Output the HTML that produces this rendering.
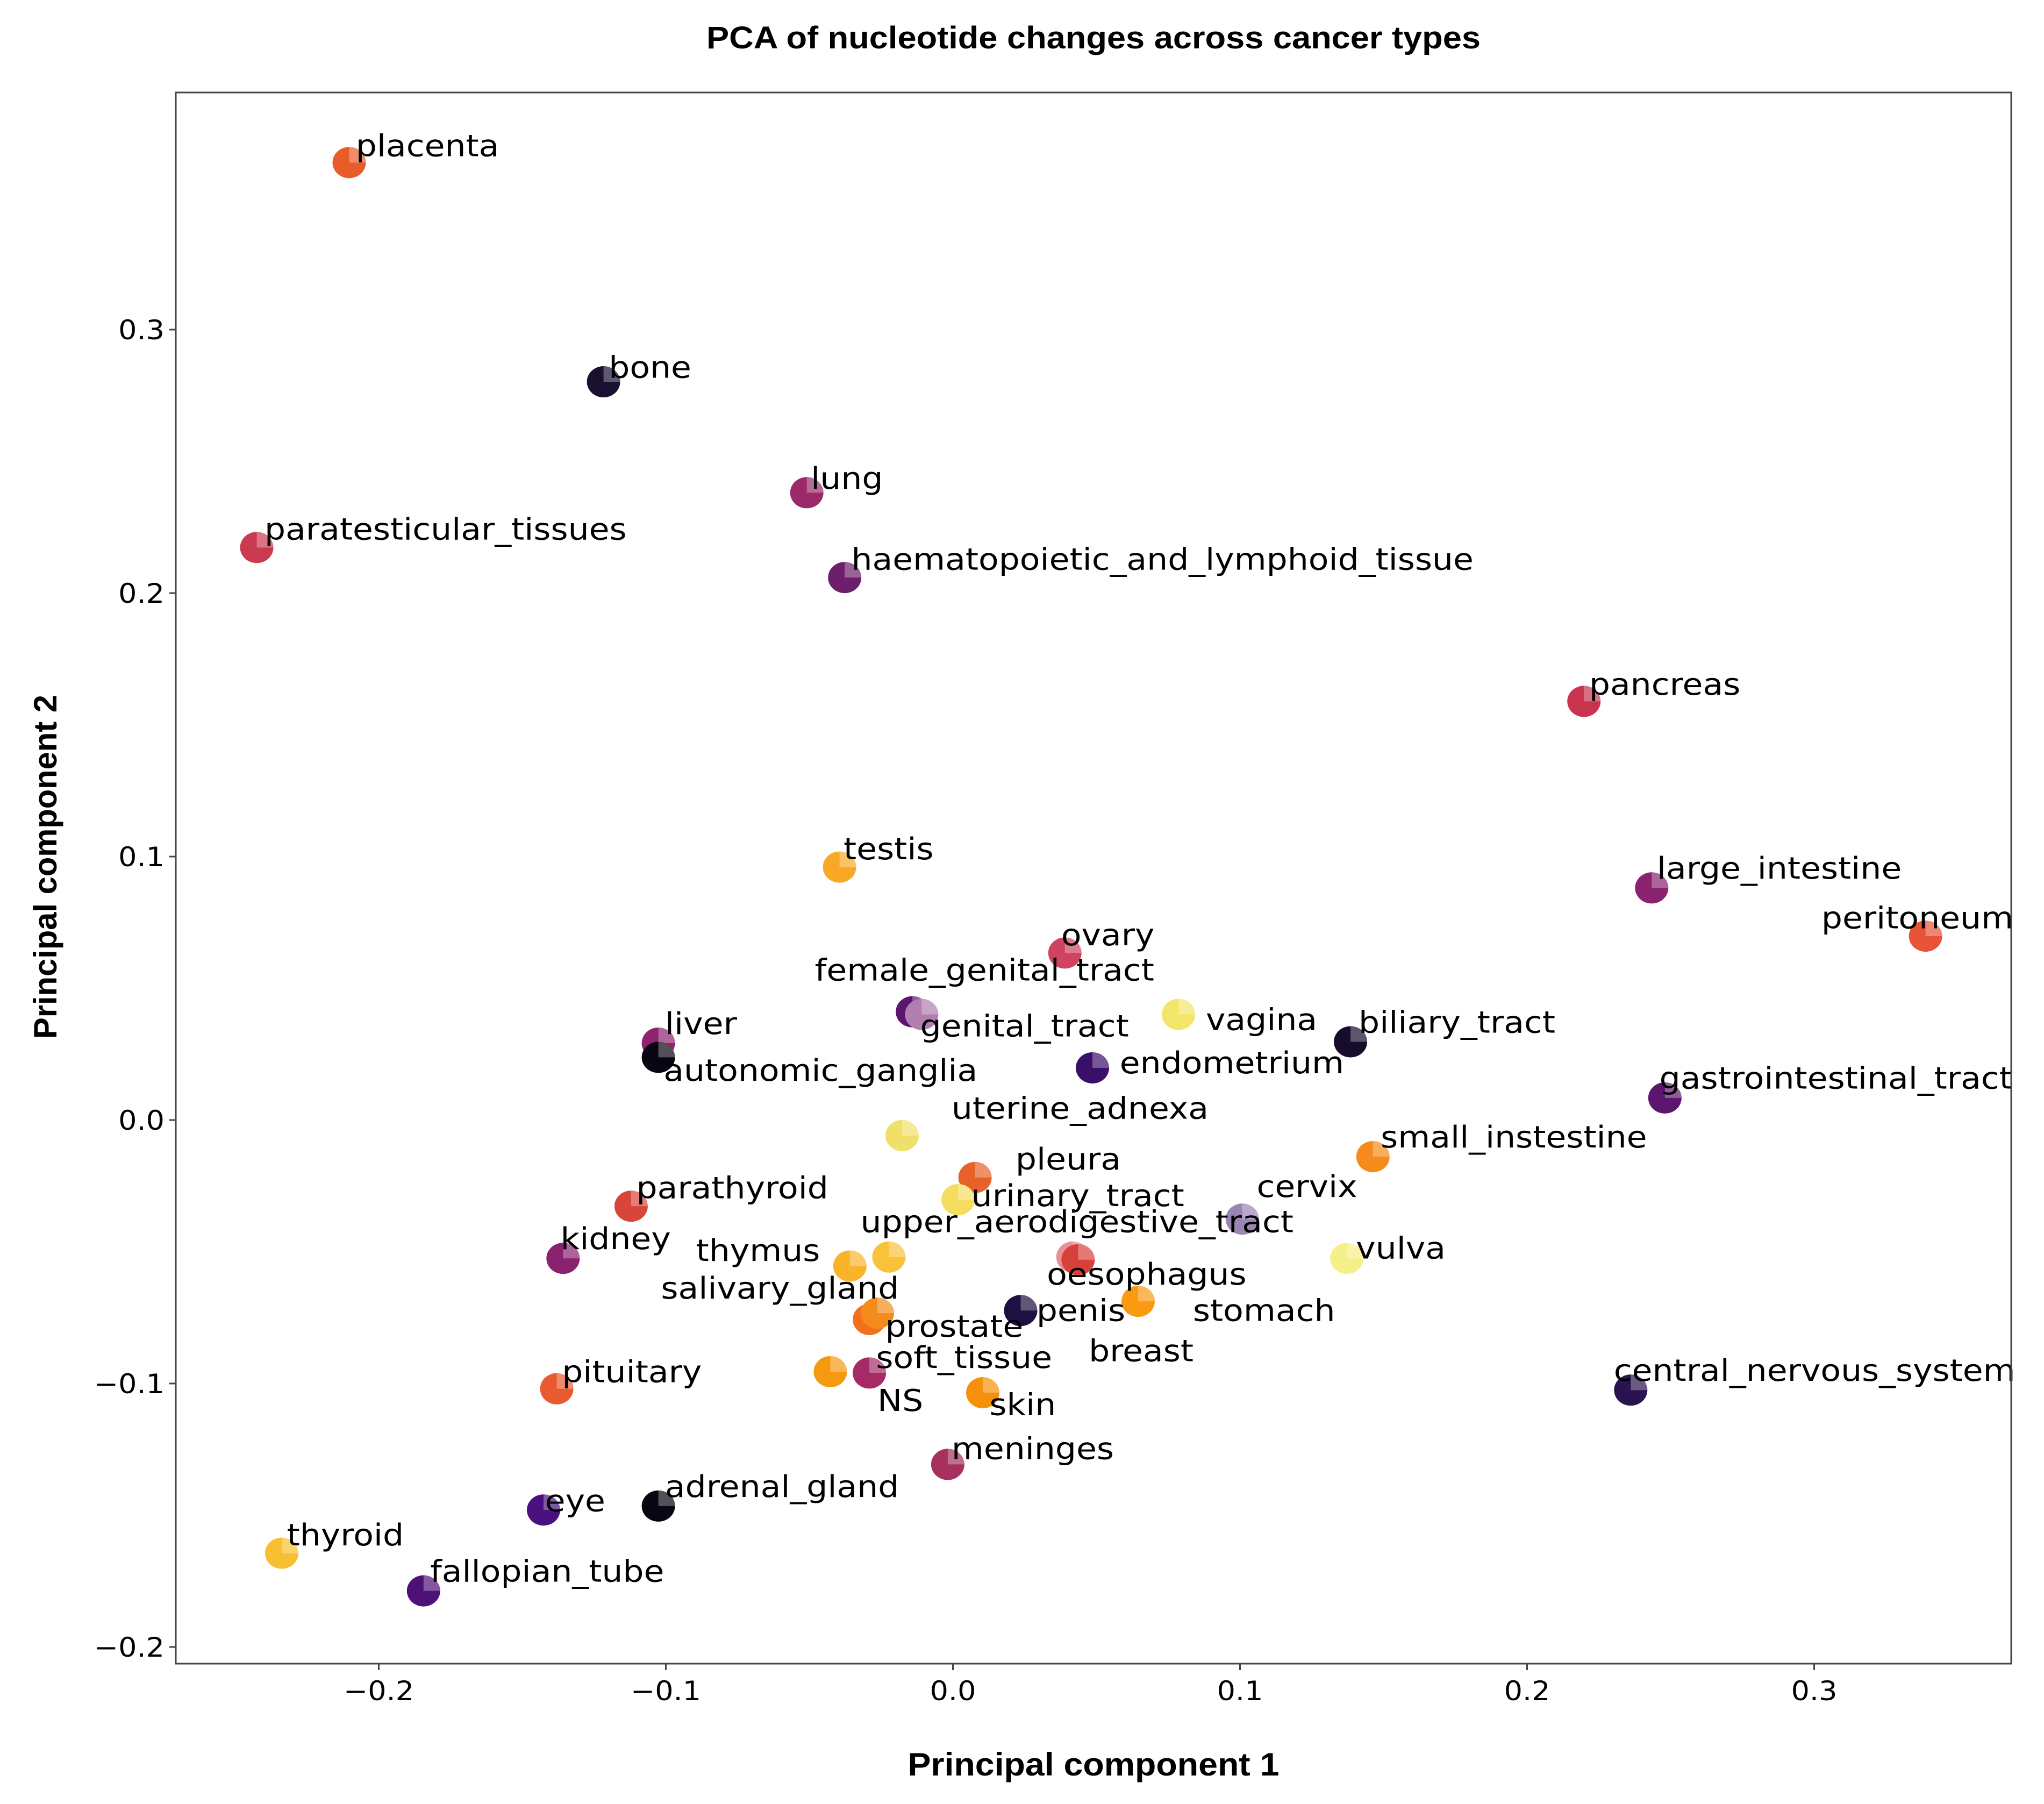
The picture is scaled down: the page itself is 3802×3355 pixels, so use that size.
<!DOCTYPE html>
<html><head><meta charset="utf-8"><style>
html,body{margin:0;padding:0;background:#fff;}
svg{display:block;}
</style></head><body>
<svg id="chart" xmlns="http://www.w3.org/2000/svg" width="3802" height="3355" viewBox="0 0 3802 3355">
<rect width="3802" height="3355" fill="#fff"/>
<text x="2034" y="90" text-anchor="middle" font-family="Liberation Sans, sans-serif" font-weight="bold" font-size="58" textLength="1440" lengthAdjust="spacingAndGlyphs" fill="#000">PCA of nucleotide changes across cancer types</text>
<text x="2034" y="3302" text-anchor="middle" font-family="Liberation Sans, sans-serif" font-weight="bold" font-size="60" textLength="691" lengthAdjust="spacingAndGlyphs" fill="#000">Principal component 1</text>
<text transform="translate(105,1612) rotate(-90)" text-anchor="middle" font-family="Liberation Sans, sans-serif" font-weight="bold" font-size="60" textLength="640" lengthAdjust="spacingAndGlyphs" fill="#000">Principal component 2</text>
<g id="axes"></g>
<g id="marks"></g>
<g id="labels"></g>
<rect x="327" y="172" width="3414" height="2922" fill="none" stroke="#444" stroke-width="3"/>
</svg>
<script>
const names = ["placenta","bone","lung","paratesticular_tissues","haematopoietic_and_lymphoid_tissue","pancreas","testis","large_intestine","peritoneum","ovary","female_genital_tract","genital_tract","vagina","biliary_tract","liver","autonomic_ganglia","endometrium","gastrointestinal_tract","uterine_adnexa","small_instestine","pleura","cervix","urinary_tract","parathyroid","kidney","thymus","upper_aerodigestive_tract","salivary_gland","prostate","breast","oesophagus","penis","stomach","vulva","soft_tissue","NS","skin","pituitary","central_nervous_system","meninges","adrenal_gland","eye","thyroid","fallopian_tube"];
const pc1 = [-0.2103,-0.1217,-0.0509,-0.2425,-0.0377,0.2198,-0.0395,0.2434,0.3388,0.0390,-0.0141,-0.0109,0.0786,0.1385,-0.1026,-0.1026,0.0486,0.2480,-0.0177,0.1463,0.0077,0.1008,0.0018,-0.1121,-0.1358,-0.0359,-0.0223,-0.0291,-0.0263,0.0418,0.0436,0.0236,0.0645,0.1372,-0.0291,-0.0427,0.0104,-0.1380,0.2361,-0.0018,-0.1026,-0.1426,-0.2338,-0.1844];
const pc2 = [0.3634,0.2802,0.2381,0.2173,0.2059,0.1589,0.0960,0.0881,0.0698,0.0634,0.0411,0.0401,0.0401,0.0297,0.0292,0.0238,0.0198,0.0084,-0.0059,-0.0139,-0.0218,-0.0376,-0.0302,-0.0327,-0.0525,-0.0554,-0.0520,-0.0757,-0.0733,-0.0520,-0.0530,-0.0723,-0.0688,-0.0525,-0.0960,-0.0955,-0.1035,-0.1020,-0.1025,-0.1307,-0.1465,-0.1480,-0.1644,-0.1787];
const labelPc1 = [-0.2080,-0.1199,-0.0495,-0.2398,-0.0354,0.2216,-0.0381,0.2452,0.3025,0.0377,-0.0481,-0.0114,0.0881,0.1413,-0.1003,-0.1008,0.0581,0.2461,-0.0005,0.1490,0.0218,0.1058,0.0064,-0.1103,-0.1367,-0.0895,-0.0322,-0.1017,-0.0236,0.0473,0.0327,0.0291,0.0836,0.1404,-0.0268,-0.0263,0.0127,-0.1362,0.2302,-0.0005,-0.1003,-0.1421,-0.2320,-0.1821];
const labelPc2 = [0.3658,0.2817,0.2396,0.2203,0.2089,0.1614,0.0990,0.0916,0.0728,0.0663,0.0530,0.0317,0.0342,0.0332,0.0327,0.0149,0.0178,0.0119,0.0005,-0.0104,-0.0188,-0.0292,-0.0327,-0.0297,-0.0490,-0.0535,-0.0426,-0.0678,-0.0822,-0.0915,-0.0624,-0.0762,-0.0762,-0.0525,-0.0941,-0.1104,-0.1119,-0.0995,-0.0990,-0.1287,-0.1431,-0.1485,-0.1614,-0.1752];
const colors = ["#e85c2a","#1a1030","#9c2a6a","#cc3a4f","#6d1f6e","#c8344f","#f9a825","#8a2270","#e8533a","#cf4260","#5c1670","#b07fb0","#f2e56a","#170c2c","#8e2470","#0a0512","#3a0f6a","#5c1670","#efe06a","#f58b1a","#e8602a","#9a86b0","#f5dd60","#d8453a","#8a2270","#f9b42a","#f9c23a","#f07020","#f58b1a","#e8909a","#d8403a","#1e1040","#f99a10","#f5f08a","#a52a66","#f59a10","#f5900a","#e85a30","#2a1450","#a6305e","#0a0512","#4a1080","#f8c030","#4e1178"];
const xTicks = [-0.2,-0.1,0.0,0.1,0.2,0.3];
const yTicks = [-0.2,-0.1,0.0,0.1,0.2,0.3];
const xTickLabels = ["\u22120.2","\u22120.1","0.0","0.1","0.2","0.3"];
const yTickLabels = ["\u22120.2","\u22120.1","0.0","0.1","0.2","0.3"];

const NS_ = "http://www.w3.org/2000/svg";
const X0 = 1772.5, XS = 5340, Y0 = 2083, YS = 4900;
function sx(v){ return X0 + v*XS; }
function sy(v){ return Y0 - v*YS; }
function mk(tag, attrs){ const e=document.createElementNS(NS_,tag); for(const k in attrs) e.setAttribute(k,attrs[k]); return e; }

const axes = document.getElementById('axes');
xTicks.forEach((t,i)=>{
  const l = mk('line',{x1:sx(t),x2:sx(t),y1:3094,y2:3106,stroke:'#444','stroke-width':3});
  
  
  axes.appendChild(l);
  const tx = mk('text',{x:0,y:0,'text-anchor':'middle','font-family':'DejaVu Sans, sans-serif','font-size':50,fill:'#000',transform:`translate(${sx(t)},3162) scale(1.08,1)`});
  tx.textContent = xTickLabels[i];
  
  
  axes.appendChild(tx);
});
yTicks.forEach((t,i)=>{
  const l = mk('line',{x1:315,x2:327,y1:sy(t),y2:sy(t),stroke:'#444','stroke-width':3});
  
  
  axes.appendChild(l);
  const tx = mk('text',{x:0,y:0,'text-anchor':'end','font-family':'DejaVu Sans, sans-serif','font-size':50,fill:'#000',transform:`translate(306,${sy(t)+18}) scale(1.08,1)`});
  tx.textContent = yTickLabels[i];
  
  
  axes.appendChild(tx);
});

const marks = document.getElementById('marks');
const labels = document.getElementById('labels');
const RX = 31, RY = 29;
names.forEach((n,i)=>{
  const cx = sx(pc1[i]), cy = sy(pc2[i]);
  const g = mk('g',{});
  
  
  g.appendChild(mk('ellipse',{cx:cx,cy:cy,rx:RX,ry:RY,fill:colors[i]}));
  g.appendChild(mk('path',{d:`M${cx},${cy} L${cx},${cy-RY} A${RX},${RY} 0 0 1 ${cx+RX},${cy} Z`,fill:'#fff','fill-opacity':0.3}));
  marks.appendChild(g);
});
names.forEach((n,i)=>{
  const t = mk('text',{x:0,y:0,'font-family':'DejaVu Sans, sans-serif','font-size':56,fill:'#000',transform:`translate(${sx(labelPc1[i])},${sy(labelPc2[i])}) scale(1.1,1)`});
  t.textContent = n;
  
  
  labels.appendChild(t);
});
</script>
</body></html>
